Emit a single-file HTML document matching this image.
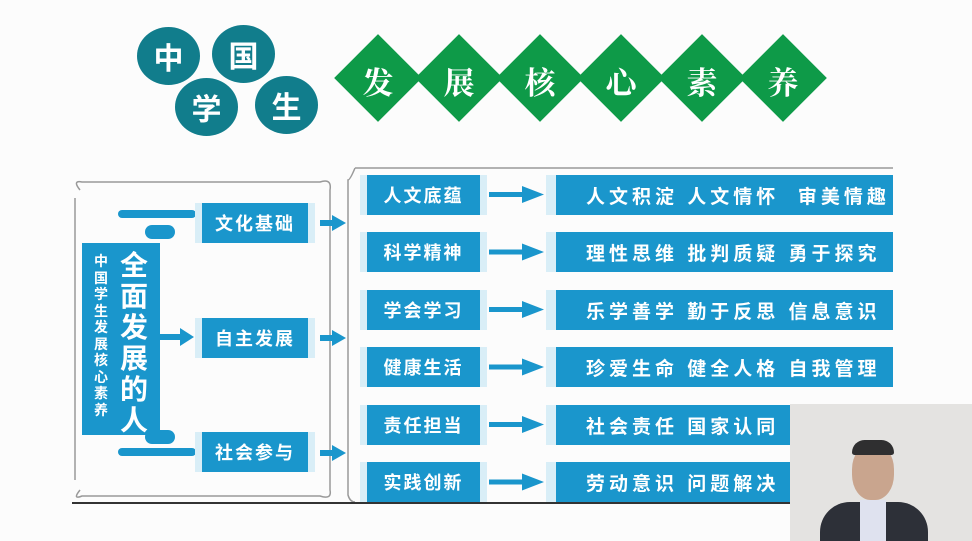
<!DOCTYPE html>
<html><head><meta charset="utf-8"><style>
body{margin:0;width:972px;height:541px;background:#fcfcfc;position:relative;overflow:hidden;font-family:"Liberation Sans","Noto Sans CJK SC",sans-serif}
.a{position:absolute}
.c{position:absolute;background:#117d8c;border-radius:50%;color:#fff;font-weight:bold;font-size:30px;display:flex;align-items:center;justify-content:center}
.d{position:absolute;width:62px;height:62px;background:#0e9a48;transform:rotate(45deg)}
.dt{position:absolute;width:80px;text-align:center;color:#fff;font-size:31px;font-family:"Noto Serif CJK SC",serif;font-weight:bold}
.b{position:absolute;background:#1a96cc;color:#fff;font-weight:bold;display:flex;align-items:center;justify-content:center;font-size:18px;letter-spacing:2px;border-left:7px solid #d9eef7;border-right:7px solid #d9eef7;box-sizing:border-box}
.r{position:absolute;background:#1a96cc;color:#fff;font-weight:bold;font-size:19px;letter-spacing:4px;border-left:10px solid #d9eef7;box-sizing:border-box;display:flex;align-items:center;justify-content:flex-start;padding-left:30px;white-space:nowrap}
</style></head><body>
<div class="c" style="left:137px;top:27px;width:63px;height:58px">中</div>
<div class="c" style="left:212px;top:25px;width:63px;height:58px">国</div>
<div class="c" style="left:175px;top:78px;width:63px;height:58px">学</div>
<div class="c" style="left:255px;top:76px;width:63px;height:58px">生</div>

<div class="d" style="left:347px;top:47px"></div>
<div class="d" style="left:428px;top:47px"></div>
<div class="d" style="left:509px;top:47px"></div>
<div class="d" style="left:590px;top:47px"></div>
<div class="d" style="left:671px;top:47px"></div>
<div class="d" style="left:752px;top:47px"></div>
<div class="dt" style="left:338px;top:58px">发</div>
<div class="dt" style="left:419px;top:58px">展</div>
<div class="dt" style="left:500px;top:58px">核</div>
<div class="dt" style="left:581px;top:58px">心</div>
<div class="dt" style="left:662px;top:58px">素</div>
<div class="dt" style="left:743px;top:58px">养</div>

<svg class="a" style="left:0;top:0" width="972" height="541">
<g fill="none" stroke="#999" stroke-width="1.5">
<path d="M80 190 Q72 180 82 182 H320 Q332 178 330 190 V490 Q332 500 320 496 H82 Q72 500 80 490"/>
<path d="M75 198 V480"/>
<path d="M355 168 Q350 180 348 180 V495 Q350 502 355 502 M355 168 H893"/>
</g>
<g fill="#1a96cc">
<rect x="118" y="210" width="78" height="8" rx="4"/>
<rect x="118" y="448" width="78" height="8" rx="4"/>
<rect x="145" y="225" width="30" height="14" rx="7"/>
<rect x="145" y="430" width="30" height="14" rx="7"/>
<rect x="160" y="334" width="22" height="6"/><polygon points="180,328 194,337 180,346"/>
<g id="ar"><rect x="320" y="220" width="14" height="6"/><polygon points="332,215 346,223 332,231"/></g>
<use href="#ar" y="115"/><use href="#ar" y="230"/>
<g id="ar2"><rect x="489" y="192" width="38" height="5"/><polygon points="522,186 544,194.5 522,203"/></g>
<use href="#ar2" y="57.5"/><use href="#ar2" y="115"/><use href="#ar2" y="172.5"/><use href="#ar2" y="230"/><use href="#ar2" y="287.5"/>
</g>
<line x1="72" y1="503" x2="790" y2="503" stroke="#333" stroke-width="2"/>
</svg>

<div class="a" style="left:82px;top:243px;width:78px;height:192px;background:#1a96cc"></div>
<div class="a" style="left:92px;top:253px;width:18px;font-size:14px;line-height:16.5px;color:#fff;font-weight:bold;text-align:center">中国学生发展核心素养</div>
<div class="a" style="left:118px;top:250px;width:32px;font-size:28px;line-height:31px;color:#fff;font-weight:bold;text-align:center">全面发展的人</div>

<div class="b" style="left:195px;top:203px;width:120px;height:40px">文化基础</div>
<div class="b" style="left:195px;top:318px;width:120px;height:40px">自主发展</div>
<div class="b" style="left:195px;top:432px;width:120px;height:40px">社会参与</div>

<div class="b" style="left:360px;top:175px;width:127px;height:40px">人文底蕴</div>
<div class="b" style="left:360px;top:232px;width:127px;height:40px">科学精神</div>
<div class="b" style="left:360px;top:290px;width:127px;height:40px">学会学习</div>
<div class="b" style="left:360px;top:347px;width:127px;height:40px">健康生活</div>
<div class="b" style="left:360px;top:405px;width:127px;height:40px">责任担当</div>
<div class="b" style="left:360px;top:462px;width:127px;height:40px">实践创新</div>

<div class="r" style="left:546px;top:175px;width:347px;height:40px">人文积淀&nbsp;人文情怀&nbsp;&nbsp;审美情趣</div>
<div class="r" style="left:546px;top:232px;width:347px;height:40px">理性思维&nbsp;批判质疑&nbsp;勇于探究</div>
<div class="r" style="left:546px;top:290px;width:347px;height:40px">乐学善学&nbsp;勤于反思&nbsp;信息意识</div>
<div class="r" style="left:546px;top:347px;width:347px;height:40px">珍爱生命&nbsp;健全人格&nbsp;自我管理</div>
<div class="r" style="left:546px;top:405px;width:347px;height:40px">社会责任&nbsp;国家认同</div>
<div class="r" style="left:546px;top:462px;width:347px;height:40px">劳动意识&nbsp;问题解决</div>

<div class="a" style="left:790px;top:404px;width:182px;height:137px;background:#e4e3e1;overflow:hidden">
<div class="a" style="left:62px;top:40px;width:42px;height:56px;border-radius:45%;background:#c9a58e"></div>
<div class="a" style="left:62px;top:36px;width:42px;height:15px;border-radius:20px 20px 4px 4px;background:#2f2f30"></div>
<div class="a" style="left:30px;top:98px;width:108px;height:60px;border-radius:30px 30px 0 0;background:#2d3038"></div>
<div class="a" style="left:70px;top:96px;width:26px;height:45px;background:#dfe2ef"></div>
</div>
</body></html>
